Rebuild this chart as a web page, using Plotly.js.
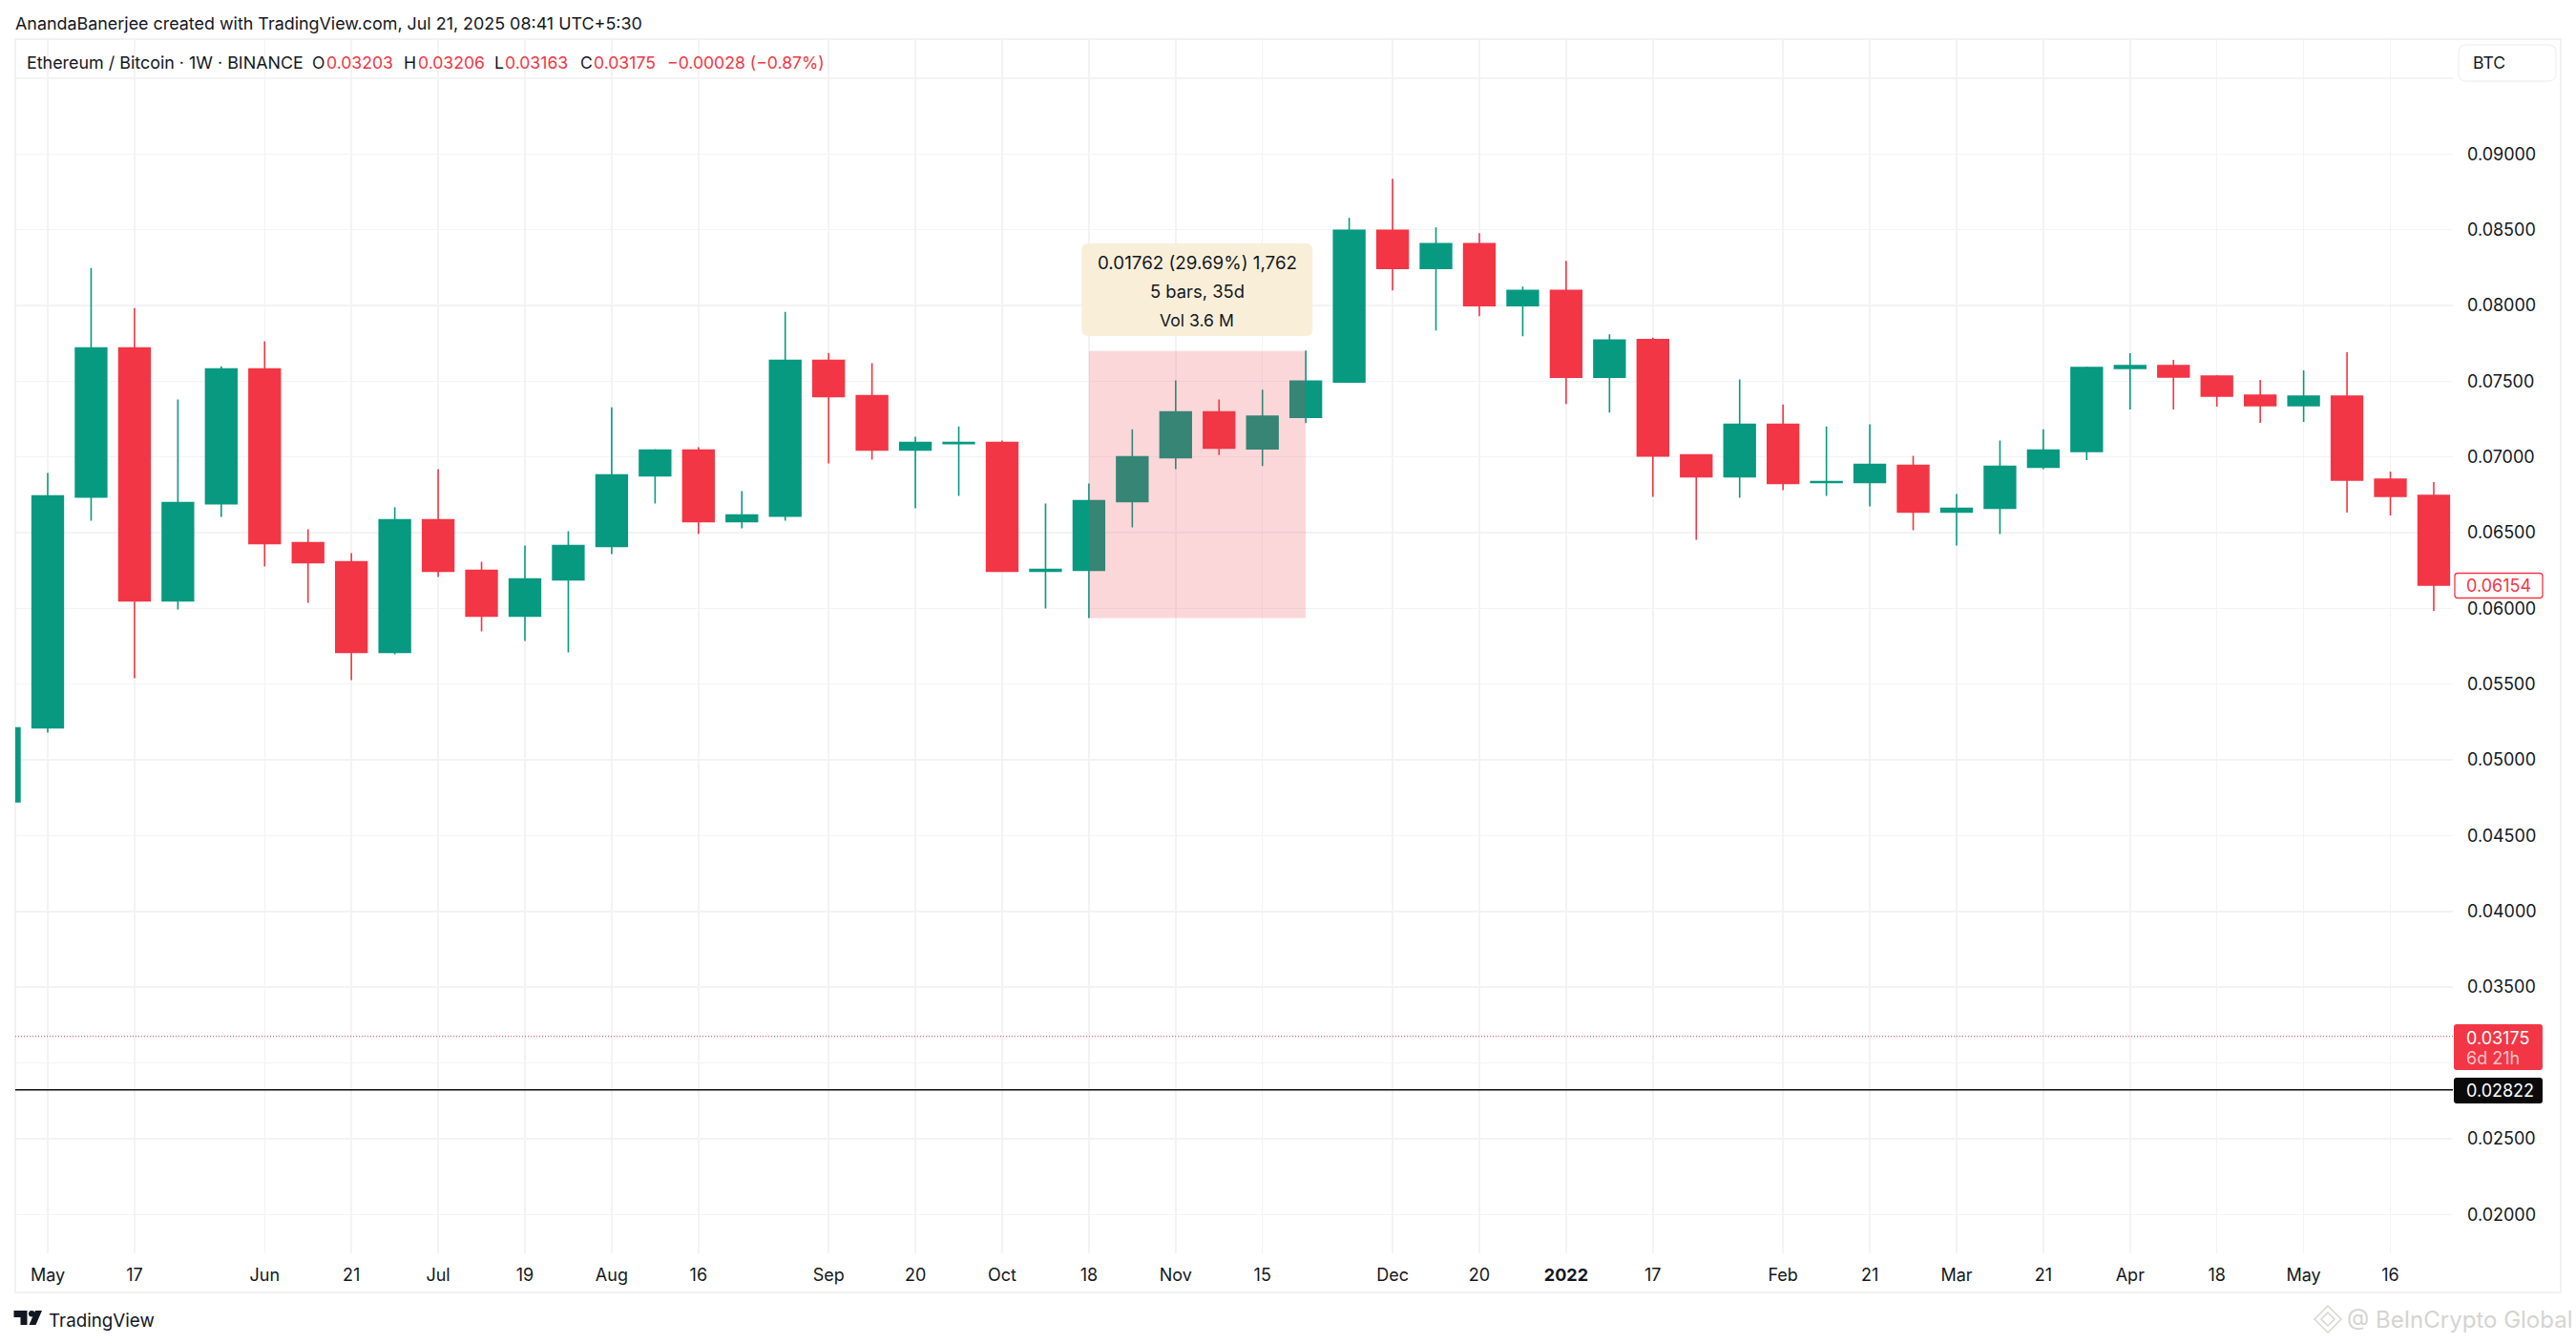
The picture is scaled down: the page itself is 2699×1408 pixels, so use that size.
<!DOCTYPE html>
<html>
<head>
<meta charset="utf-8">
<script src="https://cdn.plot.ly/plotly-3.0.1.min.js"></script>
<style>html,body{margin:0;padding:0;background:#fff}#chart{width:2699px;height:1408px}</style>
</head>
<body>
<div id="chart"></div>
<script>
const weeks = ["2021-04-26","2021-05-03","2021-05-10","2021-05-17","2021-05-24","2021-05-31","2021-06-07","2021-06-14","2021-06-21","2021-06-28","2021-07-05","2021-07-12","2021-07-19","2021-07-26","2021-08-02","2021-08-09","2021-08-16","2021-08-23","2021-08-30","2021-09-06","2021-09-13","2021-09-20","2021-09-27","2021-10-04","2021-10-11","2021-10-18","2021-10-25","2021-11-01","2021-11-08","2021-11-15","2021-11-22","2021-11-29","2021-12-06","2021-12-13","2021-12-20","2021-12-27","2022-01-03","2022-01-10","2022-01-17","2022-01-24","2022-01-31","2022-02-07","2022-02-14","2022-02-21","2022-02-28","2022-03-07","2022-03-14","2022-03-21","2022-03-28","2022-04-04","2022-04-11","2022-04-18","2022-04-25","2022-05-02","2022-05-09","2022-05-16","2022-05-23"];
const opens = [.04724,.05212,.06736,.07719,.0605,.06692,.0758,.06434,.06308,.0571,.06585,.06251,.05949,.06188,.06409,.06875,.07045,.06573,.0661,.07637,.07404,.07045,.07089,.07095,.06245,.06251,.06705,.06995,.07297,.07054,.07262,.07495,.08496,.08244,.08408,.07998,.08099,.07526,.07775,.07013,.06869,.07215,.06831,.06831,.06944,.06636,.06661,.06932,.07036,.07584,.07603,.07534,.07408,.07338,.07401,.06853,.06746];
const highs = [.0525,.06894,.08248,.07983,.07379,.07599,.07763,.06522,.06365,.06667,.06919,.06308,.06415,.0651,.07328,.07051,.07064,.06774,.07958,.07687,.07618,.07133,.07202,.07108,.06692,.06825,.07183,.07505,.07379,.07444,.07702,.08578,.08836,.08515,.08477,.08124,.08294,.07809,.07788,.07013,.07511,.07347,.07202,.07215,.07007,.06755,.07108,.07183,.07597,.07685,.07641,.0754,.07508,.07571,.07691,.06904,.06835];
const lows = [.0465,.0518,.06579,.0554,.05993,.06604,.06277,.06037,.05527,.05697,.06207,.05848,.05785,.0571,.06359,.06692,.06491,.06529,.06579,.06957,.06982,.06661,.06743,.06245,.06,.05937,.06535,.06919,.07013,.0694,.07224,.07495,.08099,.07835,.07929,.07797,.0735,.07293,.06736,.06453,.0673,.0678,.06743,.06673,.06516,.06415,.06491,.06919,.06979,.07313,.07313,.07332,.07225,.07231,.06633,.06614,.05984];
const closes = [.05212,.06743,.07719,.0605,.06699,.0758,.06428,.06302,.0571,.06585,.06245,.05949,.06195,.06415,.06881,.07045,.06573,.06617,.07637,.07398,.07045,.07095,.07095,.06245,.06258,.06711,.07001,.07297,.07058,.07268,.07501,.08496,.08244,.08408,.07998,.08099,.07526,.07772,.07007,.06869,.07215,.06825,.06837,.0695,.06636,.06661,.06938,.07045,.0759,.07603,.07527,.07401,.07338,.07401,.06847,.0674,.06154];

const timeTickDates = ["2021-05-03","2021-05-17","2021-06-07","2021-06-21","2021-07-05","2021-07-19","2021-08-02","2021-08-16","2021-09-06","2021-09-20","2021-10-04","2021-10-18","2021-11-01","2021-11-15","2021-12-06","2021-12-20","2022-01-03","2022-01-17","2022-02-07","2022-02-21","2022-03-07","2022-03-21","2022-04-04","2022-04-18","2022-05-02","2022-05-16"];
const timeTickLabels = ["May","17","Jun","21","Jul","19","Aug","16","Sep","20","Oct","18","Nov","15","Dec","20","<b>2022</b>","17","Feb","21","Mar","21","Apr","18","May","16"];
const priceTicks = [0.02,0.025,0.03,0.035,0.04,0.045,0.05,0.055,0.06,0.065,0.07,0.075,0.08,0.085,0.09,0.095];
const priceTickLabels = ["0.02000","0.02500","","0.03500","0.04000","0.04500","0.05000","0.05500","0.06000","0.06500","0.07000","0.07500","0.08000","0.08500","0.09000",""];

const lastPrice = 0.03175;
const refPrice = 0.02822;
const closeMark = 0.06154;
const measureDates = ["2021-10-18","2021-11-22"];
const measurePrices = [0.05937,0.07699];

const GREEN = "#089981", RED = "#F23645", INK = "#131722", FONT = "Inter, 'Noto Sans', sans-serif";
const L = 15.5, R = 2570, T = 41, B = 1313;
const px = x => (x - L) / (R - L);
const py = y => (B - y) / (B - T);

function roundRect(x0, y0, x1, y1, r) {
  const X = px, Y = py;
  return `M${X(x0 + r)},${Y(y0)} L${X(x1 - r)},${Y(y0)} Q${X(x1)},${Y(y0)} ${X(x1)},${Y(y0 + r)} L${X(x1)},${Y(y1 - r)} Q${X(x1)},${Y(y1)} ${X(x1 - r)},${Y(y1)} L${X(x0 + r)},${Y(y1)} Q${X(x0)},${Y(y1)} ${X(x0)},${Y(y1 - r)} L${X(x0)},${Y(y0 + r)} Q${X(x0)},${Y(y0)} ${X(x0 + r)},${Y(y0)} Z`;
}
const pathShape = (path, fill, line, w, layer) => ({type: "path", xref: "paper", yref: "paper", path, fillcolor: fill, line: {color: line, width: w}, layer: layer || "above"});
const poly = pts => "M" + pts.map(p => px(p[0]) + "," + py(p[1])).join(" L") + " Z";

const shapes = [
  {type: "rect", xref: "paper", yref: "paper", x0: 0, x1: px(2683), y0: py(1354), y1: 1, line: {color: "#f1f1f1", width: 2}, fillcolor: "rgba(0,0,0,0)", layer: "below"},
  {type: "rect", xref: "x", yref: "y", x0: measureDates[0], x1: measureDates[1], y0: measurePrices[0], y1: measurePrices[1], fillcolor: "rgba(242,54,69,0.2)", line: {width: 0}, layer: "above"},
  pathShape(roundRect(1133, 255, 1375, 352, 7), "rgba(248,238,214,0.92)", "rgba(0,0,0,0)", 0),
  {type: "line", xref: "paper", yref: "y", x0: 0, x1: 1, y0: lastPrice, y1: lastPrice, line: {color: RED, width: 1.2, dash: "1px 2px"}, layer: "above"},
  {type: "line", xref: "paper", yref: "y", x0: 0, x1: 1, y0: refPrice, y1: refPrice, line: {color: "#0a0a0a", width: 1.5}, layer: "above"},
  pathShape(roundRect(2571, 1073, 2664, 1121, 3), RED, RED, 0),
  pathShape(roundRect(2571, 1129, 2664, 1156, 3), "#0a0a0a", "#0a0a0a", 0),
  pathShape(roundRect(2572, 600.5, 2664, 626.5, 3), "#ffffff", RED, 1.3),
  pathShape(roundRect(2576, 47, 2678, 85, 8), "#ffffff", "#f0f1f3", 1.3),
  pathShape(poly([[14,1373],[28,1373],[28,1388],[21,1388],[21,1380],[14,1380]]), "#131722", "#131722", 0),
  {type: "circle", xref: "paper", yref: "paper", x0: px(29.5), x1: px(36), y0: py(1373), y1: py(1379.5), fillcolor: "#131722", line: {width: 0}, layer: "above"},
  pathShape(poly([[36.5,1373],[43.5,1373],[37,1388],[30,1388]]), "#131722", "#131722", 0),
  pathShape(poly([[2439,1368],[2453,1382],[2439,1396],[2425,1382]]), "rgba(0,0,0,0)", "#d6d6d2", 1.5),
  pathShape(poly([[2439,1375],[2446,1382],[2439,1389],[2432,1382]]), "rgba(0,0,0,0)", "#d6d6d2", 1.5)
];

const note = (x, y, text, color, size, anchor, extra) => Object.assign({
  xref: "paper", yref: "paper", x: px(x), y: py(y), text, showarrow: false,
  xanchor: anchor || "left", yanchor: "middle", align: anchor || "left", borderpad: 0, borderwidth: 0,
  font: {family: FONT, size: size || 18, color: color || INK}
}, extra || {});

const annotations = [
  note(15.5, 24, "AnandaBanerjee created with TradingView.com, Jul 21, 2025 08:41 UTC+5:30", INK, 17.9),
  note(27.5, 65, "Ethereum / Bitcoin · 1W · BINANCE", INK, 17.9),
  note(327, 65, "O", INK, 17.6), note(342, 65, "0.03203", RED, 17.6),
  note(423, 65, "H", INK, 17.6), note(437.5, 65, "0.03206", RED, 17.6),
  note(518, 65, "L", INK, 17.6), note(529, 65, "0.03163", RED, 17.6),
  note(608, 65, "C", INK, 17.6), note(621.5, 65, "0.03175", RED, 17.6),
  note(699, 65, "−0.00028 (−0.87%)", RED, 17.6),
  note(2591, 65, "BTC", INK, 17.6),
  note(1254, 275, "0.01762 (29.69%) 1,762", INK, 18.8, "center"),
  note(1254, 305, "5 bars, 35d", INK, 18.4, "center"),
  note(1254, 335, "Vol 3.6 M", INK, 17.6, "center"),
  note(2584.5, 1087, "0.03175", "#ffffff", 18),
  note(2584.5, 1108, "6d 21h", "#fbc3c8", 18),
  note(2584.5, 1142.5, "0.02822", "#ffffff", 18),
  note(2584.5, 613.5, "0.06154", RED, 18),
  note(51, 1383, "TradingView", INK, 18.8),
  note(2459, 1382, "@ BeInCrypto Global", "#d4d4d0", 24)
];

const trace = {
  type: "candlestick",
  x: weeks, open: opens, high: highs, low: lows, close: closes,
  whiskerwidth: 0,
  increasing: {line: {color: GREEN, width: 1.6}, fillcolor: GREEN},
  decreasing: {line: {color: RED, width: 1.6}, fillcolor: RED},
  hoverinfo: "skip"
};

const layout = {
  width: 2699, height: 1408, autosize: false,
  margin: {l: L, r: 2699 - R, t: T, b: 1408 - B, pad: 0},
  paper_bgcolor: "#ffffff", plot_bgcolor: "#ffffff",
  showlegend: false, hovermode: false, dragmode: false,
  boxmode: "overlay", boxgap: 0.28, boxgroupgap: 0,
  font: {family: FONT, size: 18, color: INK},
  xaxis: {
    type: "date", range: ["2021-04-27 18:20", "2022-05-26 02:00"],
    rangeslider: {visible: false}, tickmode: "array", tickvals: timeTickDates, ticktext: timeTickLabels,
    showgrid: true, gridcolor: "#f3f3f4", gridwidth: 1.4, zeroline: false, showline: false, ticks: "",
    ticklabelstandoff: 10, tickfont: {family: FONT, size: 18, color: INK}, automargin: false, tickangle: 0
  },
  yaxis: {
    type: "linear", side: "right", range: [0.01743, 0.09758],
    tickmode: "array", tickvals: priceTicks, ticktext: priceTickLabels,
    showgrid: true, gridcolor: "#f3f3f4", gridwidth: 1.4, zeroline: false, showline: false, ticks: "",
    ticklabelstandoff: 14, tickfont: {family: FONT, size: 18, color: INK}, automargin: false
  },
  shapes, annotations
};

Plotly.newPlot("chart", [trace], layout, {displayModeBar: false, staticPlot: true, responsive: false});
</script>
</body>
</html>
